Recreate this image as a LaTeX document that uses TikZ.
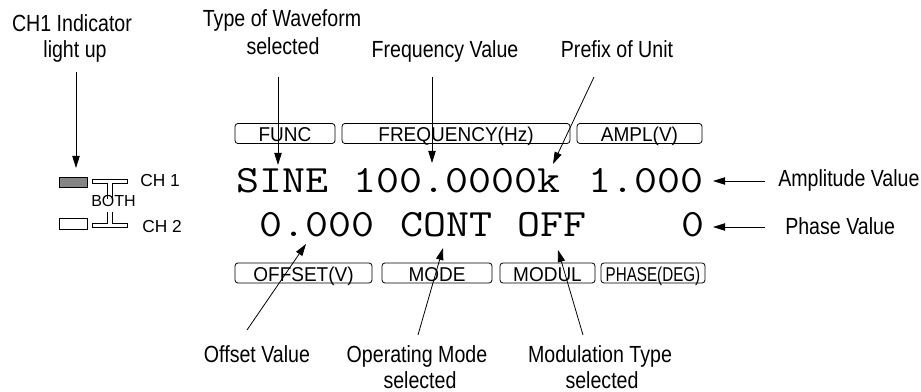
\documentclass[tikz,border=0pt]{standalone}
\usepackage{fontspec}
\usepackage{graphicx}
\setmainfont{Liberation Sans}
\newfontfamily\condfont[FakeStretch=0.84]{Liberation Sans}
\newfontfamily\keyfont[FakeStretch=0.95]{Liberation Sans}
\newfontfamily\lcdfont[FakeStretch=1.155]{Latin Modern Mono}
\usetikzlibrary{arrows.meta,calc}
\begin{document}
\begin{tikzpicture}[x=0.75pt,y=-0.75pt,
  lbl/.style={font=\condfont\fontsize{17.5pt}{20pt}\selectfont, inner sep=0pt, anchor=base},
  lcd/.style={font=\lcdfont\fontsize{29pt}{32pt}\selectfont, inner sep=0pt, anchor=base west},
  keybox/.style={draw, line width=0.6pt, rounded corners=2.2pt, font=\keyfont\fontsize{15pt}{17pt}\selectfont, inner xsep=0pt, inner ysep=0pt, text height=12.7pt, text depth=0pt, minimum height=15pt},
  lead/.style={line width=0.6pt, -{Triangle[length=9pt,width=5.5pt]}},
  small/.style={inner sep=0pt, anchor=base west},
  tee/.style={line width=0.5pt}
]
\useasboundingbox (0,0) rectangle (921,392);

% ---- labels
\node[lbl] (ind1) at (72,32) {CH1 Indicator};
\node[lbl] (ind2) at (75,58) {light up};
\node[lbl] (wav1) at (282,27) {Type of Waveform};
\node[lbl] (wav2) at (283,55) {selected};
\node[lbl] (freqlbl) at (445,58) {Frequency Value};
\node[lbl] (preflbl) at (617,58) {Prefix of Unit};
\node[lbl, anchor=base west] (amplbl) at (778,186) {Amplitude Value};
\node[lbl, anchor=base west] (phlbl) at (785,234) {Phase Value};
\node[lbl] (offlbl) at (257,362) {Offset Value};
\node[lbl] (mode1) at (417,362) {Operating Mode};
\node[lbl] (mode2) at (420,388) {selected};
\node[lbl] (mod1) at (600,362) {Modulation Type};
\node[lbl] (mod2) at (602,388) {selected};

% ---- key boxes
\node[keybox, minimum width=75pt] (kfunc) at (285,133.5) {FUNC};
\node[keybox, minimum width=171pt] (kfreq) at (456,133.5) {FREQUENCY(Hz)};
\node[keybox, minimum width=93.75pt] (kampl) at (639.5,133.5) {AMPL(V)};
\node[keybox, minimum width=102.75pt] (koff) at (303.5,273) {OFFSET(V)};
\node[keybox, minimum width=82.5pt] (kmode) at (437,273) {MODE};
\node[keybox, minimum width=71.25pt] (kmodul) at (547.5,273) {MODUL};
\node[keybox, minimum width=78pt] (kphase) at (653,273) {\scalebox{0.8}[1]{PHASE(DEG)}};

% ---- display text
\node[lcd] (dsine) at (236,193) {SINE};
\node[lcd] (dfreq) at (353.25,193) {100.0000k};
\node[lcd] (dampl) at (587.75,193) {1.000};
\node[lcd] (doff) at (259.45,237) {0.000};
\node[lcd] (dcont) at (400.15,237) {CONT};
\node[lcd] (doffm) at (517.4,237) {OFF};
\node[lcd] (dphase) at (681.55,237) {0};

% ---- channel indicator
\node[draw, line width=0.5pt, fill=black!48, minimum width=21pt, minimum height=7.5pt, inner sep=0pt] (led1) at (73,182) {};
\node[draw, line width=0.5pt, fill=white, minimum width=21pt, minimum height=8.25pt, inner sep=0pt] (led2) at (73,223.5) {};
\draw[tee] (107,199) -- (107,183.3) -- (92,183.3) -- (92,179.3) -- (127,179.3) -- (127,183.3) -- (112,183.3) -- (112,199);
\draw[tee] (107,212) -- (107,223) -- (92,223) -- (92,227) -- (127,227) -- (127,223) -- (112,223) -- (112,212);
\node[small, font=\fontsize{13pt}{15pt}\selectfont] (ch1) at (140,186) {CH 1};
\node[small, font=\fontsize{12pt}{14pt}\selectfont] (both) at (91,207) {BOTH};
\node[small, font=\fontsize{13pt}{15pt}\selectfont] (ch2) at (142,233) {CH 2};

% ---- leader lines
\coordinate (a1s) at (76,72);   \coordinate (a1e) at (76,168);
\coordinate (a2s) at (278,77);  \coordinate (a2e) at (278,165);
\coordinate (a3s) at (432,77);  \coordinate (a3e) at (432,163);
\coordinate (a4s) at (594,77);  \coordinate (a4e) at (553,164);
\coordinate (a5s) at (765,181); \coordinate (a5e) at (713,181);
\coordinate (a6s) at (765,227); \coordinate (a6e) at (713,227);
\coordinate (a7s) at (247,330); \coordinate (a7e) at (306,244);
\coordinate (a8s) at (418,335); \coordinate (a8e) at (443,248);
\coordinate (a9s) at (583,335); \coordinate (a9e) at (558,250);
\foreach \i in {1,...,9} { \draw[lead] (a\i s) -- (a\i e); }
\end{tikzpicture}
\end{document}
